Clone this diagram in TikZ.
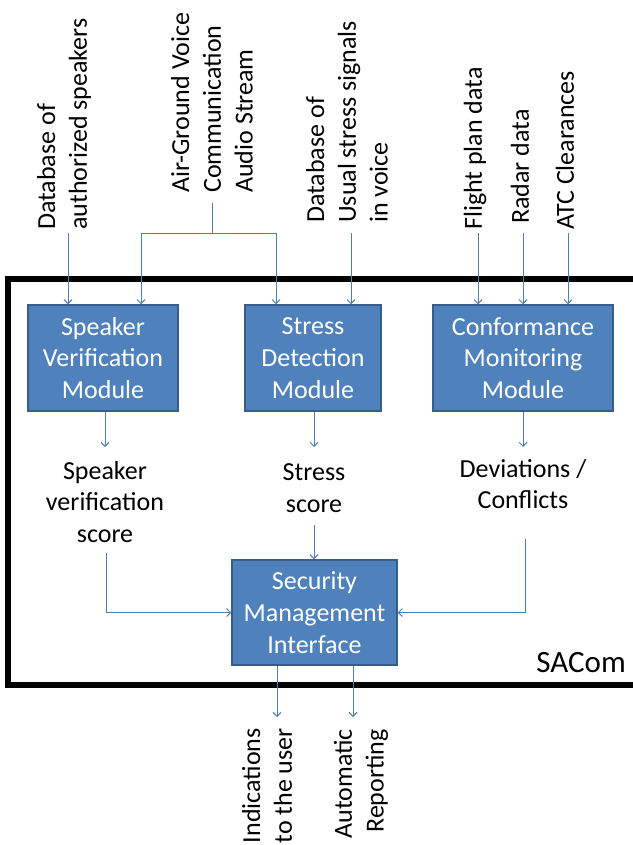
\documentclass[tikz,border=0pt]{standalone}
\usepackage{fontspec}
\setmainfont{Carlito}
\usetikzlibrary{arrows.meta}
\definecolor{boxfill}{HTML}{4F81BD}
\definecolor{boxline}{HTML}{385D8A}
\definecolor{arrowc}{HTML}{4A7EBB}
\begin{document}
\begin{tikzpicture}[x=1pt,y=-1pt,
  txt/.style={inner sep=0pt, font=\fontsize{26}{31.7}\selectfont},
  module/.style={txt, draw=boxline, line width=1.5pt, fill=boxfill, text=white, align=center},
  lbl/.style={txt, align=center},
  toplbl/.style={txt, rotate=90, anchor=west, align=left},
  botlbl/.style={txt, rotate=90, anchor=east, align=right},
  conn/.style={draw=arrowc, line width=1pt},
  arr/.style={conn, -{Straight Barb[length=4pt,width=8pt]}}]
\useasboundingbox (0,0) rectangle (632,845);
% frame
\draw[line width=5.5pt] (8,279) rectangle (650,685);
\node[txt, anchor=east, font=\fontsize{31}{37}\selectfont] (sacom) at (626,663) {SACom};
% modules
\node[module, minimum width=150pt, minimum height=106pt] (sv) at (103,358) {Speaker\\Verification\\Module};
\node[module, minimum width=136pt, minimum height=106pt] (sd) at (313,358) {Stress\\Detection\\Module};
\node[module, minimum width=180pt, minimum height=106pt] (cm) at (523,358) {Conformance\\Monitoring\\Module};
\node[module, minimum width=165pt, minimum height=105pt] (smi) at (314.5,612.5) {Security\\Management\\Interface};
% top labels
\node[toplbl] (dbs) at (64,230) {Database of\\authorized speakers};
\node[toplbl] (ag) at (212,193) {Air-Ground Voice\\Communication\\Audio Stream};
\node[toplbl] (dbu) at (347,223) {Database of\\Usual stress signals\\in voice};
\node[toplbl] (fp) at (475,230) {Flight plan data};
\node[toplbl] (rd) at (520,224) {Radar data};
\node[toplbl] (atc) at (565,230) {ATC Clearances};
% input connectors
\coordinate (t1) at (68,233);
\coordinate (agb) at (212,203);
\coordinate (t2a) at (141,233);
\coordinate (t2b) at (276,233);
\coordinate (t3) at (351,233);
\coordinate (t4) at (478,233);
\coordinate (t5) at (523,233);
\coordinate (t6) at (568,233);
\draw[arr] (t1) -- (t1 |- sv.north);
\draw[conn] (agb) -- (agb |- t2a);
\draw[conn] (t2a) -- (t2b);
\draw[arr] (t2a) -- (t2a |- sv.north);
\draw[arr] (t2b) -- (t2b |- sd.north);
\draw[arr] (t3) -- (t3 |- sd.north);
\draw[arr] (t4) -- (t4 |- cm.north);
\draw[arr] (t5) -- (t5 |- cm.north);
\draw[arr] (t6) -- (t6 |- cm.north);
% outputs of modules
\coordinate (o1) at (105,447);
\coordinate (o2) at (314,447);
\coordinate (o3) at (523,447);
\draw[arr] (o1 |- sv.south) -- (o1);
\draw[arr] (o2 |- sd.south) -- (o2);
\draw[arr] (o3 |- cm.south) -- (o3);
\node[lbl] (svs) at (105,502) {Speaker\\verification\\score};
\node[lbl] (sds) at (314,488) {Stress\\score};
\node[lbl] (cms) at (523,484) {Deviations /\\Conflicts};
% into security interface
\coordinate (s1) at (106,553);
\coordinate (s2) at (314,525);
\coordinate (s3) at (525,539);
\draw[arr] (s1) |- (smi.west);
\draw[arr] (s2) -- (s2 |- smi.north);
\draw[arr] (s3) |- (smi.east);
% outputs
\coordinate (b1) at (277,717);
\coordinate (b2) at (353,717);
\draw[arr] (b1 |- smi.south) -- (b1);
\draw[arr] (b2 |- smi.south) -- (b2);
\node[botlbl] (ind) at (267,728) {Indications\\to the user};
\node[botlbl] (rep) at (361,729) {Automatic\\Reporting};
\end{tikzpicture}
\end{document}
